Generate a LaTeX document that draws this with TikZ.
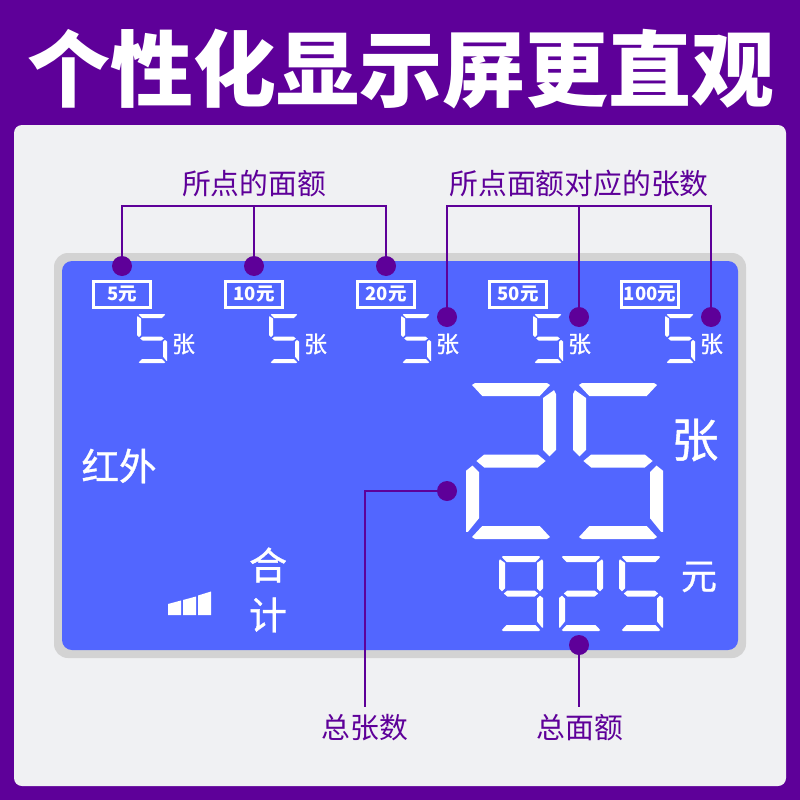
\documentclass[tikz,border=0pt]{standalone}
\usepackage{fontspec}
\setmainfont{Noto Sans CJK SC}
\newfontfamily\medfont{Noto Sans CJK SC}[FakeBold=0.9]
\newfontfamily\plainfont{Noto Sans CJK SC}
\definecolor{bgpurple}{HTML}{5E0099}
\definecolor{panelgrey}{HTML}{F0F1F3}
\definecolor{lcdrim}{HTML}{D3D3D3}
\definecolor{lcdblue}{HTML}{5266FF}
\tikzset{
  lead/.style={draw=bgpurple,line width=2pt},
  dot/.style={circle,fill=bgpurple,inner sep=0pt,minimum size=20pt},
  calloutlabel/.style={text=bgpurple,font=\plainfont\fontsize{28.8}{30}\selectfont,inner sep=0pt},
  facebox/.style={draw=white,line width=2.6pt,minimum width=57.5pt,minimum height=26.5pt,inner sep=0pt,text=white,font=\bfseries\fontsize{18.5}{20}\selectfont},
  unitsmall/.style={text=white,inner sep=0pt,font=\medfont\fontsize{23}{24}\selectfont},
  lcdtext/.style={text=white,inner sep=0pt},
  seg/.style={fill=white,draw=none}
}
\newcommand{\segA}{\fill[seg] (\xa+.46*\tk,\ya+.15*\tk)--(\xa+.7*\tk,\ya)--(\xb-.7*\tk,\ya)--(\xb-.46*\tk,\ya+.15*\tk)--(\xb-1.25*\tk,\ya+\tk)--(\xa+1.25*\tk,\ya+\tk)--cycle;}
\newcommand{\segD}{\fill[seg] (\xa+.46*\tk,\yb-.15*\tk)--(\xa+.7*\tk,\yb)--(\xb-.7*\tk,\yb)--(\xb-.46*\tk,\yb-.15*\tk)--(\xb-1.25*\tk,\yb-\tk)--(\xa+1.25*\tk,\yb-\tk)--cycle;}
\newcommand{\segG}{\fill[seg] (\xa+.8*\tk,\ym)--(\xa+1.4*\tk,\ym-.5*\tk)--(\xb-1.4*\tk,\ym-.5*\tk)--(\xb-.8*\tk,\ym)--(\xb-1.4*\tk,\ym+.5*\tk)--(\xa+1.4*\tk,\ym+.5*\tk)--cycle;}
\newcommand{\segB}{\fill[seg] (\xb-\tk,\ya+1.15*\tk)--(\xb-.15*\tk,\ya+.55*\tk)--(\xb,\ya+.85*\tk)--(\xb,\ym-.85*\tk)--(\xb-.5*\tk,\ym-.35*\tk)--(\xb-\tk,\ym-.85*\tk)--cycle;}
\newcommand{\segF}{\fill[seg] (\xa+\tk,\ya+1.15*\tk)--(\xa+.15*\tk,\ya+.55*\tk)--(\xa,\ya+.85*\tk)--(\xa,\ym-.85*\tk)--(\xa+.5*\tk,\ym-.35*\tk)--(\xa+\tk,\ym-.85*\tk)--cycle;}
\newcommand{\segC}{\fill[seg] (\xb-\tk,\ym+.85*\tk)--(\xb-.5*\tk,\ym+.35*\tk)--(\xb,\ym+.75*\tk)--(\xb,\yb-.55*\tk)--(\xb-.15*\tk,\yb-.55*\tk)--(\xb-\tk,\yb-1.6*\tk)--cycle;}
\newcommand{\segE}{\fill[seg] (\xa+\tk,\ym+.85*\tk)--(\xa+.5*\tk,\ym+.35*\tk)--(\xa,\ym+.75*\tk)--(\xa,\yb-.55*\tk)--(\xa+.15*\tk,\yb-.55*\tk)--(\xa+\tk,\yb-1.6*\tk)--cycle;}
% x y w h t segments
\newcommand{\lcddigit}[6]{%
  \pgfmathsetmacro{\xa}{#1}\pgfmathsetmacro{\ya}{#2}%
  \pgfmathsetmacro{\xb}{#1+#3}\pgfmathsetmacro{\yb}{#2+#4}%
  \pgfmathsetmacro{\ym}{#2+#4/2}\pgfmathsetmacro{\tk}{#5}%
  \foreach \sname in {#6}{\csname seg\sname\endcsname}%
}
\begin{document}
\begin{tikzpicture}[x=1pt,y=-1pt]
\useasboundingbox (0,0) rectangle (800,800);
\fill[bgpurple] (0,0) rectangle (800,800);
\fill[panelgrey,rounded corners=8pt] (14,125) rectangle (786,786);
\fill[lcdrim,rounded corners=14pt] (54,253) rectangle (746,658);
\fill[lcdblue,rounded corners=10pt] (62,261) rectangle (738,650);

\node[text=white,inner sep=0pt,font=\bfseries\fontsize{83}{85}\selectfont] (title) at (401,69) {个性化显示屏更直观};

% digits
\foreach \dx in {137,269,401,533,665}{\lcddigit{\dx}{314}{30}{49}{4}{A,F,G,C,D}}
\lcddigit{466}{383}{90}{156}{13}{A,B,G,E,D}
\lcddigit{573}{383}{90}{156}{13}{A,F,G,C,D}
\lcddigit{499}{556}{44}{75}{6}{A,B,C,D,F,G}
\lcddigit{559}{556}{44}{75}{6}{A,B,G,E,D}
\lcddigit{619}{556}{44}{75}{6}{A,F,G,C,D}

% face value boxes
\node[facebox] (f5) at (122,294.5) {5元};
\node[facebox] (f10) at (254,294.5) {10元};
\node[facebox] (f20) at (386,294.5) {20元};
\node[facebox] (f50) at (518,294.5) {50元};
\node[facebox] (f100) at (650,294.5) {100元};

% units
\node[unitsmall] (u1) at (183.5,344) {张};
\node[unitsmall] (u2) at (315.5,344) {张};
\node[unitsmall] (u3) at (447.5,344) {张};
\node[unitsmall] (u4) at (579.5,344) {张};
\node[unitsmall] (u5) at (711.5,344) {张};
\node[lcdtext,font=\medfont\fontsize{47}{48}\selectfont] (ubig) at (695,440) {张};
\node[lcdtext,font=\medfont\fontsize{36}{38}\selectfont] (uyuan) at (699,577) {元};
\node[lcdtext,font=\medfont\fontsize{37.5}{40}\selectfont] (infra) at (119,466) {红外};
\node[lcdtext,font=\medfont\fontsize{38}{40}\selectfont] (he) at (268,565) {合};
\node[lcdtext,font=\medfont\fontsize{38}{40}\selectfont] (ji) at (268,615) {计};

% signal bars
\fill[white] (168,604)--(181,600.5)--(181,615)--(168,615)--cycle;
\fill[white] (183,600)--(196,596.5)--(196,615)--(183,615)--cycle;
\fill[white] (198,595.5)--(211,591.5)--(211,615)--(198,615)--cycle;

% callouts
\node[calloutlabel] (lfaces) at (254,184) {所点的面额};
\node[calloutlabel] (lcounts) at (579,184) {所点面额对应的张数};
\node[calloutlabel] (ltotal) at (365,728) {总张数};
\node[calloutlabel] (lsum) at (580,728) {总面额};

\coordinate (jl) at (254,206);
\coordinate (jr) at (579,206);
\coordinate (ct) at (365,491);
\coordinate (bt) at (365,707);
\coordinate (bs) at (579,707);

\node[dot] (d1) at (122,266) {};
\node[dot] (d2) at (254,266) {};
\node[dot] (d3) at (386,266) {};
\node[dot] (e1) at (447,317) {};
\node[dot] (e2) at (579,317) {};
\node[dot] (e3) at (711,317) {};
\node[dot] (dt) at (447,491) {};
\node[dot] (ds) at (579,645) {};

\draw[lead] (d1.center) |- (jl);
\draw[lead] (d2.center) -- (jl);
\draw[lead] (d3.center) |- (jl);
\draw[lead] (e1.center) |- (jr);
\draw[lead] (e2.center) -- (jr);
\draw[lead] (e3.center) |- (jr);
\draw[lead] (dt.center) -- (ct) -- (bt);
\draw[lead] (ds.center) -- (bs);
\end{tikzpicture}
\end{document}
